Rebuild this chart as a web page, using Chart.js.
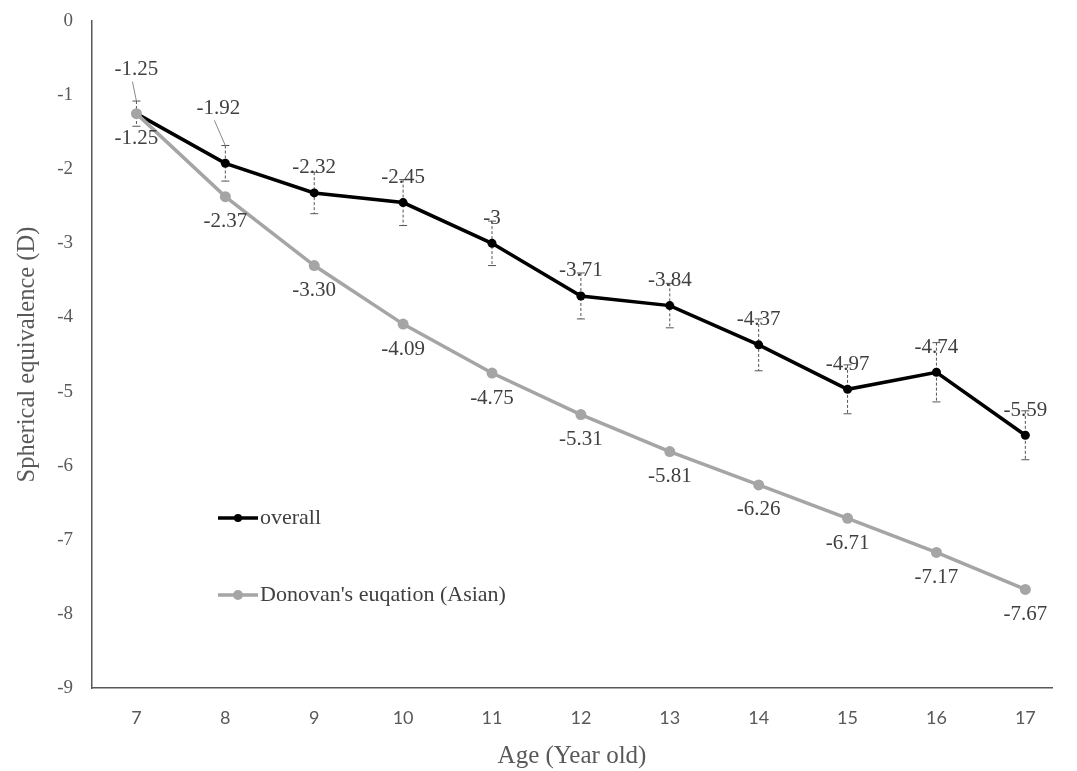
<!DOCTYPE html>
<html>
<head>
<meta charset="utf-8">
<script src="https://cdn.jsdelivr.net/npm/chart.js@4/dist/chart.umd.min.js"></script>
<style>
  html, body { margin: 0; padding: 0; background: #fff; }
  #wrap { width: 1077px; height: 771px; }
</style>
</head>
<body>
<div id="wrap"><canvas id="seChart" width="1077" height="771"></canvas></div>
<script>
// Datos
const ages = [7, 8, 9, 10, 11, 12, 13, 14, 15, 16, 17];
const overall = [-1.25, -1.92, -2.32, -2.45, -3, -3.71, -3.84, -4.37, -4.97, -4.74, -5.59];
const overallErr = [0.17, 0.24, 0.28, 0.31, 0.30, 0.31, 0.30, 0.35, 0.33, 0.40, 0.33];
const overallLabels = ['-1.25', '-1.92', '-2.32', '-2.45', '-3', '-3.71', '-3.84', '-4.37', '-4.97', '-4.74', '-5.59'];
const donovan = [-1.25, -2.37, -3.30, -4.09, -4.75, -5.31, -5.81, -6.26, -6.71, -7.17, -7.67];
const donovanLabels = ['-1.25', '-2.37', '-3.30', '-4.09', '-4.75', '-5.31', '-5.81', '-6.26', '-6.71', '-7.17', '-7.67'];
const yTicks = [0, -1, -2, -3, -4, -5, -6, -7, -8, -9];

const SERIF = '"Liberation Serif", "Times New Roman", serif';
const TEXT = '#404040';

// Barras de error punteadas para la serie "overall"
const errorBars = {
    id: 'errorBars',
    beforeDatasetsDraw(chart) {
        const ctx = chart.ctx;
        const y = chart.scales.y;
        const meta = chart.getDatasetMeta(1);
        ctx.save();
        ctx.strokeStyle = '#555';
        ctx.lineWidth = 1;
        meta.data.forEach((pt, i) => {
            const top = y.getPixelForValue(overall[i] + overallErr[i]);
            const bot = y.getPixelForValue(overall[i] - overallErr[i]);
            ctx.setLineDash([3, 2]);
            ctx.beginPath();
            ctx.moveTo(pt.x, top);
            ctx.lineTo(pt.x, bot);
            ctx.stroke();
            ctx.setLineDash([]);
            ctx.beginPath();
            ctx.moveTo(pt.x - 4, top); ctx.lineTo(pt.x + 4, top);
            ctx.moveTo(pt.x - 4, bot); ctx.lineTo(pt.x + 4, bot);
            ctx.stroke();
        });
        ctx.restore();
    }
};

// Etiquetas de datos (arriba para overall, abajo para Donovan)
const overallLift = { 0: 44, 1: 55 };
const overallShift = { 1: -7 };
const dataLabels = {
    id: 'dataLabels',
    afterDatasetsDraw(chart) {
        const ctx = chart.ctx;
        ctx.save();
        ctx.font = '21px ' + SERIF;
        ctx.fillStyle = TEXT;
        ctx.textAlign = 'center';
        ctx.textBaseline = 'middle';
        chart.getDatasetMeta(1).data.forEach((pt, i) => {
            const lift = overallLift[i] || 25;
            const lx = pt.x + (overallShift[i] || 0);
            const ly = pt.y - lift;
            ctx.fillText(overallLabels[i], lx, ly);
            if (overallLift[i]) {
                ctx.strokeStyle = '#888';
                ctx.lineWidth = 1;
                ctx.beginPath();
                ctx.moveTo(lx - 4, ly + 12);
                ctx.lineTo(pt.x, chart.scales.y.getPixelForValue(overall[i] + overallErr[i]));
                ctx.stroke();
            }
        });
        chart.getDatasetMeta(0).data.forEach((pt, i) => {
            ctx.fillText(donovanLabels[i], pt.x, pt.y + 25);
        });
        ctx.restore();
    }
};

// Leyenda dentro del área del gráfico
const innerLegend = {
    id: 'innerLegend',
    afterDraw(chart) {
        const ctx = chart.ctx;
        const items = [
            { text: 'overall', color: '#000', y: 518, r: 4 },
            { text: "Donovan's euqation (Asian)", color: '#A5A5A5', y: 595, r: 5 }
        ];
        ctx.save();
        ctx.font = '22px ' + SERIF;
        ctx.textBaseline = 'middle';
        items.forEach(it => {
            ctx.strokeStyle = it.color;
            ctx.fillStyle = it.color;
            ctx.lineWidth = 3.5;
            ctx.beginPath();
            ctx.moveTo(218, it.y);
            ctx.lineTo(258, it.y);
            ctx.stroke();
            ctx.beginPath();
            ctx.arc(238, it.y, it.r, 0, Math.PI * 2);
            ctx.fill();
            ctx.fillStyle = TEXT;
            ctx.fillText(it.text, 260, it.y);
        });
        ctx.restore();
    }
};

const ctx = document.getElementById('seChart').getContext('2d');
const chart = new Chart(ctx, {
    type: 'line',
    data: {
        datasets: [{
            label: "Donovan's euqation (Asian)",
            data: ages.map((a, i) => ({ x: a, y: donovan[i] })),
            borderColor: '#A5A5A5',
            backgroundColor: '#A5A5A5',
            borderWidth: 3.5,
            pointRadius: 5.5,
            pointBorderWidth: 0
        }, {
            label: 'overall',
            data: ages.map((a, i) => ({ x: a, y: overall[i] })),
            borderColor: '#000',
            backgroundColor: '#000',
            borderWidth: 3.5,
            pointRadius: 4.5,
            pointBorderWidth: 0
        }]
    },
    options: {
        responsive: false,
        animation: false,
        devicePixelRatio: 1,
        layout: { padding: { top: 21, right: 25, left: 0, bottom: 0 } },
        plugins: {
            legend: { display: false },
            tooltip: { enabled: false }
        },
        scales: {
            x: {
                type: 'linear',
                min: 6.5,
                max: 17.3,
                afterBuildTicks: scale => { scale.ticks = ages.map(v => ({ value: v })); },
                afterFit: scale => { scale.height = 83; },
                grid: { display: false, drawTicks: false },
                border: { color: '#595959', width: 1.5 },
                ticks: {
                    color: '#595959',
                    font: { family: 'Lato', size: 18 },
                    padding: 19,
                    maxRotation: 0
                },
                title: {
                    display: true,
                    text: 'Age (Year old)',
                    color: '#595959',
                    font: { family: SERIF, size: 25 },
                    padding: { top: 4, bottom: 0 }
                }
            },
            y: {
                min: -9,
                max: 0,
                afterBuildTicks: scale => { scale.ticks = yTicks.map(v => ({ value: v })); },
                afterFit: scale => {
                    scale.width = 92;
                    scale.paddingTop = 0;
                    scale.paddingBottom = 0;
                },
                grid: { display: false, drawTicks: false },
                border: { color: '#595959', width: 1.5 },
                ticks: {
                    color: '#595959',
                    font: { family: SERIF, size: 19 },
                    padding: 19
                },
                title: {
                    display: true,
                    text: 'Spherical equivalence (D)',
                    color: '#595959',
                    font: { family: SERIF, size: 24.5 },
                    padding: { top: 13, bottom: 0 }
                }
            }
        }
    },
    plugins: [errorBars, dataLabels, innerLegend]
});
</script>
</body>
</html>
